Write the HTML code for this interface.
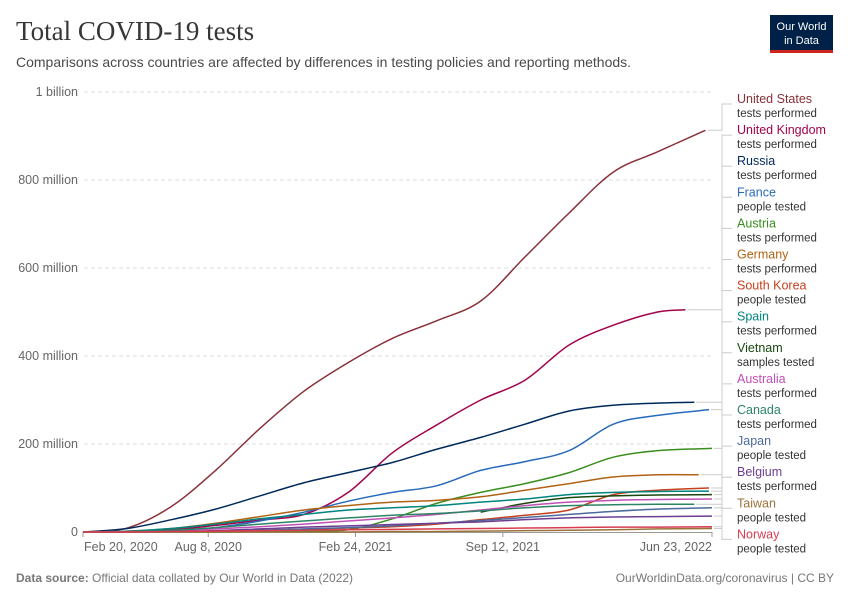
<!DOCTYPE html>
<html><head><meta charset="utf-8"><style>
body{margin:0;background:#fff;width:850px;height:600px;overflow:hidden;font-family:"Liberation Sans",sans-serif}
svg text{font-family:"Liberation Sans",sans-serif}
</style></head><body>
<svg id="c" width="850" height="600" xmlns="http://www.w3.org/2000/svg">
<text x="16" y="40" font-family="Liberation Serif" font-size="27" fill="#373737" style="font-family:'Liberation Serif',serif">Total COVID-19 tests</text>
<text x="16" y="67" font-size="14" fill="#4a4a4a">Comparisons across countries are affected by differences in testing policies and reporting methods.</text>
<g>
<rect x="770" y="15" width="63" height="35" fill="#002147"/>
<rect x="770" y="50" width="63" height="3" fill="#ce261e"/>
<text x="801.5" y="30" font-size="11" fill="#fff" text-anchor="middle">Our World</text>
<text x="801.5" y="44" font-size="11" fill="#fff" text-anchor="middle">in Data</text>
</g>
<g id="grid"></g><g id="lines"></g><g id="legend"></g>
<text x="16" y="582" font-size="12" fill="#777"><tspan font-weight="bold">Data source:</tspan> Official data collated by Our World in Data (2022)</text>
<text x="834" y="582" font-size="12" fill="#777" text-anchor="end">OurWorldinData.org/coronavirus | CC BY</text>
</svg>
<script>
const days=[0,60,120,180,240,300,360,420,480,540,600,660,720,780,845];
const names=["United States","United Kingdom","Russia","France","Austria","Germany","South Korea","Spain","Vietnam","Australia","Canada","Japan","Belgium","Taiwan","Norway"];
const metrics=["tests performed","tests performed","tests performed","people tested","tests performed","tests performed","people tested","tests performed","samples tested","tests performed","tests performed","people tested","tests performed","people tested","people tested"];
const palette=["#883039","#a2044b","#00295b","#286bbb","#3a8e1e","#b16214","#c4411f","#00847e","#18470f","#c050b6","#2c8465","#4c6a9c","#6d3e91","#9a7239","#d73c50"];
const endDays=[845,818,830,850,854,836,850,850,854,854,830,854,854,854,854];
const vUS=[0,9,58,140,235,320,385,440,480,525,625,725,818,864,913];
const vUK=[0,1,5,15,27,40,90,180,243,300,345,425,470,500,505];
const vRU=[0,8,28,52,82,112,135,158,188,215,245,275,288,293,295];
const vFR=[0,1,3,10,25,45,70,90,105,140,160,185,245,265,278];
const vAT=[0,0,0,0,1,2,5,30,65,90,110,135,170,185,190];
const vDE=[0,2,8,20,35,50,60,68,72,80,95,110,125,130,130];
const vKR=[0,0,1,2,4,6,9,12,18,28,38,50,85,95,100];
const vES=[0,2,8,18,30,40,50,55,60,68,75,85,90,92,93];
const vVN=[null,null,null,null,null,null,null,null,null,45,65,78,82,84,85];
const vAU=[0,1,3,7,12,18,25,32,40,50,60,68,72,74,75];
const vCA=[0,1,4,10,18,25,32,38,42,48,55,60,62,63,63];
const vJP=[0,0,1,2,4,7,10,14,20,26,33,40,47,52,55];
const vBE=[0,0,1,3,7,11,14,17,20,23,28,32,34,35,36];
const vTW=[0,0,0,0,0,0,0,1,1,2,3,4,5,7,8];
const vNO=[0,0,1,2,3,4,5,6,7,8,9,10,11,11,12];
const series=[vUS,vUK,vRU,vFR,vAT,vDE,vKR,vES,vVN,vAU,vCA,vJP,vBE,vTW,vNO];
const yTicks=[0,200,400,600,800,1000];
const yTickLabels=["0","200 million","400 million","600 million","800 million","1 billion"];
const xTicks=[0,170,370,570,854];
const xTickLabels=["Feb 20, 2020","Aug 8, 2020","Feb 24, 2021","Sep 12, 2021","Jun 23, 2022"];
const X=d=>83+d*(712-83)/854;
const Y=v=>532-v*0.44;
const NS="http://www.w3.org/2000/svg";
function mk(tag,attrs,parent){const e=document.createElementNS(NS,tag);for(const k in attrs)e.setAttribute(k,attrs[k]);parent.appendChild(e);return e;}
function smooth(pts){
  if(pts.length<3)return 'M'+pts.map(p=>p.join(',')).join(' L');
  let d='M'+pts[0][0]+','+pts[0][1];
  for(let i=0;i<pts.length-1;i++){
    const p0=pts[Math.max(0,i-1)],p1=pts[i],p2=pts[i+1],p3=pts[Math.min(pts.length-1,i+2)];
    const c1=[p1[0]+(p2[0]-p0[0])/6,p1[1]+(p2[1]-p0[1])/6],c2=[p2[0]-(p3[0]-p1[0])/6,p2[1]-(p3[1]-p1[1])/6];
    d+=` C${c1[0]},${c1[1]} ${c2[0]},${c2[1]} ${p2[0]},${p2[1]}`;
  }
  return d;
}
const grid=document.getElementById('grid'),lines=document.getElementById('lines'),leg=document.getElementById('legend');
yTicks.forEach((t,i)=>{
  if(t>0){const l=mk('line',{x1:84,x2:712,y1:Y(t),y2:Y(t),stroke:'#ddd','stroke-dasharray':'4 3'},grid);
  
  }
  const tx=mk('text',{x:78,y:Y(t)+4,'font-size':12.5,fill:'#666','text-anchor':'end'},grid);tx.textContent=yTickLabels[i];
  
  
});
const ax=mk('line',{x1:83,x2:712,y1:532.5,y2:532.5,stroke:'#999'},grid);


xTicks.forEach((d,i)=>{
  const tk=mk('line',{x1:X(d),x2:X(d),y1:532,y2:537,stroke:'#999'},grid);
  
  
  const anchor=i==0?'start':(i==xTicks.length-1?'end':'middle');
  const tx=mk('text',{x:X(d)+(i==0?1:0),y:551,'font-size':12.5,fill:'#666','text-anchor':anchor},grid);tx.textContent=xTickLabels[i];
  
  
});
series.forEach((vals,s)=>{
  let pts=[];
  vals.forEach((v,i)=>{if(v===null)return;const d=i==vals.length-1?endDays[s]:days[i];pts.push([X(d),Y(v)]);});
  const p=mk('path',{d:smooth(pts),fill:'none',stroke:palette[s],'stroke-width':1.5,'stroke-linejoin':'round'},lines);
  
  
  const ey=pts[pts.length-1][1],ly=99+s*31.1+5;
  const c=mk('polyline',{points:`${pts[pts.length-1][0]+2},${ey} 722,${ey} 722,${ly} 732,${ly}`,fill:'none',stroke:'#ccc','stroke-width':1},leg);
  
  
  const g=mk('g',{},leg);
  
  
  const t1=mk('text',{x:737,y:99+s*31.1+4,'font-size':12.5,fill:palette[s]},g);t1.textContent=names[s];
  const t2=mk('text',{x:737,y:99+s*31.1+18,'font-size':11.5,fill:'#333'},g);t2.textContent=metrics[s];
});
</script>
</body></html>
